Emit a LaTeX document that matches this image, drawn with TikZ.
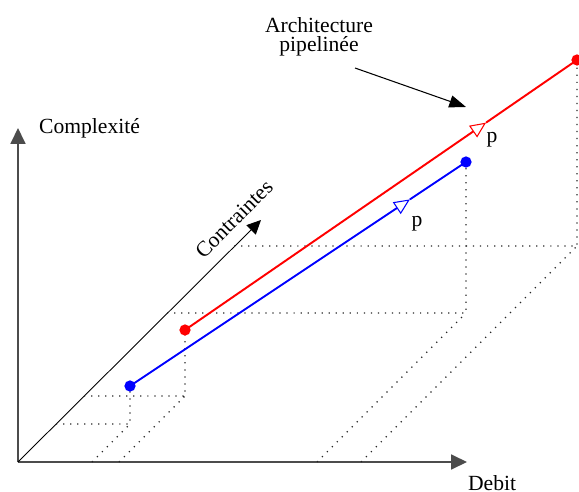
\documentclass[tikz,border=0pt]{standalone}
\usepackage{fontspec}
\setmainfont{Liberation Serif}
\usetikzlibrary{arrows.meta,calc}

\begin{document}
\begin{tikzpicture}[
  x={(0.02cm,0)}, y={(0,0.02cm)}, z={(0.02cm,0.02cm)},
  font=\fontsize{12.3}{10.8}\selectfont,
  axe/.style={draw=black!70, line width=0.8pt, -{Triangle[length=9pt, width=8.5pt]}},
  guide/.style={draw=black!85, line width=0.7pt, dash pattern=on 0.7pt off 3.3pt},
  courbe/.style={line width=1.1pt},
  fleche/.style={-{Triangle[open, length=9pt, width=8pt, line width=0.6pt]}},
  pt/.style={circle, fill, inner sep=0pt, minimum size=6.4pt}
]
\useasboundingbox (-18,-29) rectangle (561,462);

% axes
\coordinate (O) at (0,0);
\coordinate (debit) at (449,0);
\coordinate (cplx) at (0,334);
\coordinate (ctr) at (243,242);
\draw[axe] (O) -- (debit);
\draw[axe] (O) -- (cplx);
\draw[line width=0.5pt, -{Triangle[length=8pt, width=7.5pt]}] (O) -- (ctr);
\node[anchor=west, inner sep=1pt] (ldebit) at (448,-21) {Debit};
\node[anchor=west, inner sep=1pt] (lcplx) at (19,334) {Complexité};
\node[rotate=45] (lctr) at (216,243) {Contraintes};

% points (debit, complexite, contraintes) et projections
\foreach \p/\X/\H/\D in {b1/74/38/38, r1/101/66/66, b2/299/151/149, r2/343/186/216} {
  \coordinate (\p) at (\X,\H,\D);
  \coordinate (\p-d) at (0,0,\D);
  \coordinate (\p-s) at (\X,0,\D);
  \coordinate (\p-x) at (\X,0,0);
  \draw[guide] (\p-d) -- (\p-s) -- (\p) (\p-x) -- (\p-s);
}

% droites
\coordinate (bm) at ($(b1)!0.833!(b2)$);
\coordinate (rm) at ($(r1)!0.768!(r2)$);
\draw[courbe, blue, fleche] (b1) -- (bm);
\draw[courbe, blue] (bm) -- (b2);
\draw[courbe, red, fleche] (r1) -- (rm);
\draw[courbe, red] (rm) -- (r2);
\foreach \p in {b1,b2} \node[pt, blue] at (\p) {};
\foreach \p in {r1,r2} \node[pt, red] at (\p) {};
\node (pb) at (399,238) {p};
\node (pr) at (474,322) {p};

% annotation
\node[align=center] (arch) at (301,425) {Architecture\\pipelinée};
\coordinate (as) at (337,394);
\coordinate (ae) at (448,355);
\draw[line width=0.6pt, -{Triangle[length=9.5pt, width=7pt]}] (as) -- (ae);
\end{tikzpicture}
\end{document}
